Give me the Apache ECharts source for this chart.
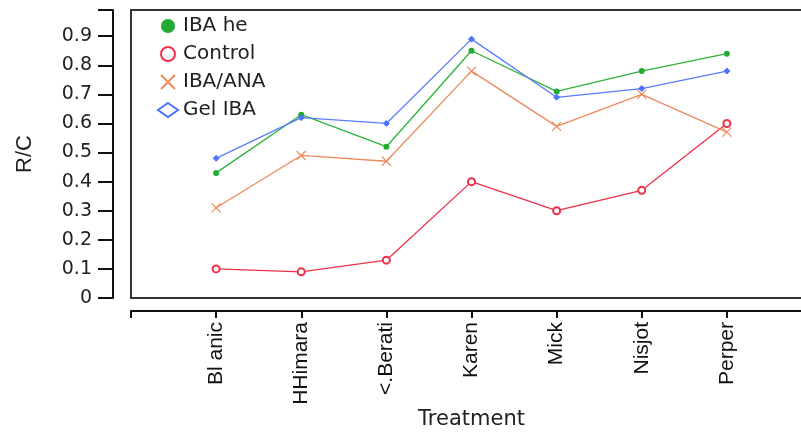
<!DOCTYPE html>
<html><head><meta charset="utf-8">
<script src="https://cdn.jsdelivr.net/npm/echarts@6/dist/echarts.min.js"></script>
<style>html,body{margin:0;padding:0;background:#fff}#c{width:801px;height:433px}</style>
</head><body><div id="c"></div>
<script>
const categories = ['Bl anic','HHimara','<.Berati','Karen','Mick','Nisjot','Perper'];
const ibaHe   = [0.43,0.63,0.52,0.85,0.71,0.78,0.84];
const control = [0.10,0.09,0.13,0.40,0.30,0.37,0.60];
const ibaAna  = [0.31,0.49,0.47,0.78,0.59,0.70,0.57];
const gelIba  = [0.48,0.62,0.60,0.89,0.69,0.72,0.78];
const yTicks  = [0,0.1,0.2,0.3,0.4,0.5,0.6,0.7,0.8,0.9];
const seriesNames = ['IBA he','Control','IBA/ANA','Gel IBA'];

const xPath = 'path://M0,0L10,10M10,0L0,10';
const pairs = arr => arr.map((v,i)=>[i+1, v]);
const font = 'DejaVu Sans';
const narrow = 'Liberation Sans Narrow, Liberation Sans';

const chart = echarts.init(document.getElementById('c'), null, {renderer:'canvas'});
chart.setOption({
  animation:false,
  backgroundColor:'#fff',
  grid:{left:131, top:10, right:-11, bottom:135, containLabel:false, outerBoundsMode:'none',
        show:true, borderColor:'#333', borderWidth:2, backgroundColor:'transparent'},
  legend:{
    orient:'vertical', left:152, top:11, itemGap:8, itemWidth:20, itemHeight:14,
    textStyle:{fontFamily:font, fontSize:20, color:'#222'},
    data:[
      {name:seriesNames[0], icon:'circle'},
      {name:seriesNames[1], icon:'emptyCircle'},
      {name:seriesNames[2], icon:xPath},
      {name:seriesNames[3], icon:'emptyDiamond'}
    ]
  },
  xAxis:{
    type:'value', min:0, max:8, interval:1, offset:13,
    name:'Treatment', nameLocation:'middle', nameGap:98, nameMoveOverlap:false,
    nameTextStyle:{fontFamily:font, fontSize:21, color:'#222'},
    splitLine:{show:false},
    axisLine:{show:true, onZero:false, lineStyle:{color:'#111', width:2}},
    axisTick:{show:true, length:7, lineStyle:{color:'#111', width:2}},
    axisLabel:{rotate:90, margin:11, fontFamily:narrow, fontSize:21, color:'#111',
      formatter:v => (v>=1 && v<=categories.length) ? categories[v-1] : ''}
  },
  yAxis:{
    type:'value', min:0, max:0.99, interval:0.1, offset:18,
    name:'R/C', nameLocation:'middle', nameGap:77, nameRotate:90, nameMoveOverlap:false,
    nameTextStyle:{fontFamily:narrow, fontSize:22, color:'#222'},
    splitLine:{show:false},
    axisLine:{show:true, onZero:false, lineStyle:{color:'#111', width:2}},
    axisTick:{show:true, length:15, lineStyle:{color:'#111', width:2}},
    axisLabel:{margin:21, fontFamily:font, fontSize:19, color:'#222',
      formatter:v => {const t = yTicks.find(k=>Math.abs(k-v)<1e-6); return t===undefined ? '' : (t===0 ? '0' : t.toFixed(1));}}
  },
  series:[
    {name:seriesNames[0], type:'line', data:pairs(ibaHe), symbol:'circle', symbolSize:6,
     lineStyle:{color:'#2db33a', width:1.3}, itemStyle:{color:'#22aa33'}},
    {name:seriesNames[1], type:'line', data:pairs(control), symbol:'emptyCircle', symbolSize:7,
     lineStyle:{color:'#ee3048', width:1.3}, itemStyle:{color:'#ee3048', borderColor:'#ee3048', borderWidth:1.2}},
    {name:seriesNames[2], type:'line', data:pairs(ibaAna), symbol:xPath, symbolSize:9,
     lineStyle:{color:'#ec8a5c', width:1.3}, itemStyle:{color:'#ec8a5c', borderColor:'#ec8a5c', borderWidth:1.2}},
    {name:seriesNames[3], type:'line', data:pairs(gelIba), symbol:'diamond', symbolSize:6,
     lineStyle:{color:'#5a7cff', width:1.3}, itemStyle:{color:'#4f72ff', borderColor:'#4f72ff', borderWidth:1}}
  ]
});
</script></body></html>
